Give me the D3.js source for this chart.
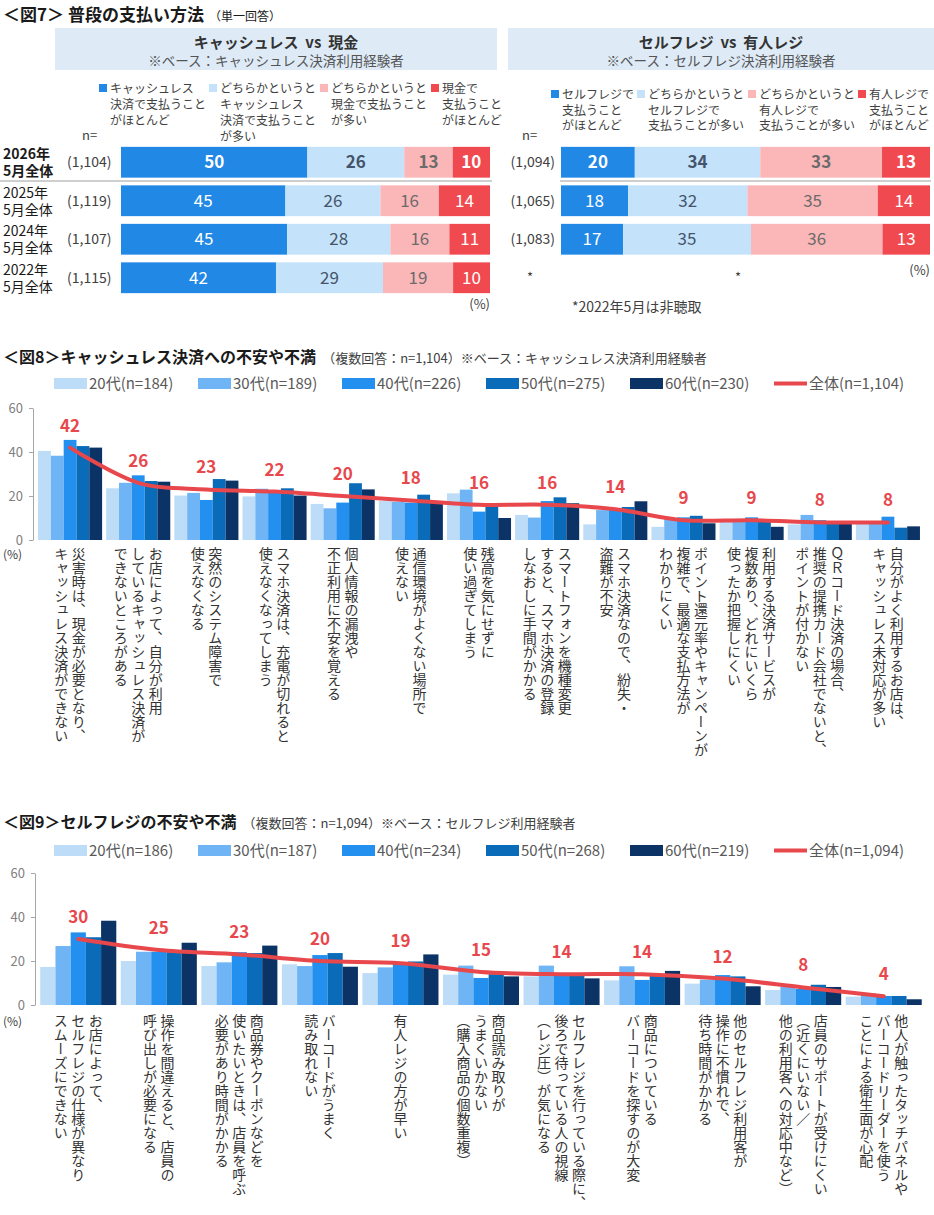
<!DOCTYPE html>
<html>
<head>
<meta charset="utf-8">
<script src="https://cdn.jsdelivr.net/npm/d3@7"></script>
<style>
  body { margin: 0; background: #fff; }
  svg text { font-family: "Noto Sans CJK JP", "Noto Sans", sans-serif; }
  .vlab { writing-mode: vertical-rl; }
</style>
</head>
<body>
<div id="chart"></div>
<script>
// ---------- data: 図7 ----------
const years = ["2026年", "2025年", "2024年", "2022年"];
const nCash = ["(1,104)", "(1,119)", "(1,107)", "(1,115)"];
const cashRows = [[50, 26, 13, 10], [45, 26, 16, 14], [45, 28, 16, 11], [42, 29, 19, 10]];
const nSelf = ["(1,094)", "(1,065)", "(1,083)"];
const selfRows = [[20, 34, 33, 13], [18, 32, 35, 14], [17, 35, 36, 13]];
const cashLegend = [
  ["キャッシュレス", "決済で支払うこと", "がほとんど"],
  ["どちらかというと", "キャッシュレス", "決済で支払うこと", "が多い"],
  ["どちらかというと", "現金で支払うこと", "が多い"],
  ["現金で", "支払うこと", "がほとんど"]
];
const selfLegend = [
  ["セルフレジで", "支払うこと", "がほとんど"],
  ["どちらかというと", "セルフレジで", "支払うことが多い"],
  ["どちらかというと", "有人レジで", "支払うことが多い"],
  ["有人レジで", "支払うこと", "がほとんど"]
];

// ---------- data: 図8 ----------
const ages = ["20代", "30代", "40代", "50代", "60代"];
const legend8 = ["20代(n=184)", "30代(n=189)", "40代(n=226)", "50代(n=275)", "60代(n=230)", "全体(n=1,104)"];
const cats8 = [
  ["災害時は、現金が必要となり、", "キャッシュレス決済ができない"],
  ["お店によって、自分が利用", "しているキャッシュレス決済が", "できないところがある"],
  ["突然のシステム障害で", "使えなくなる"],
  ["スマホ決済は、充電が切れると", "使えなくなってしまう"],
  ["個人情報の漏洩や", "不正利用に不安を覚える"],
  ["通信環境がよくない場所で", "使えない"],
  ["残高を気にせずに", "使い過ぎてしまう"],
  ["スマートフォンを機種変更", "すると、スマホ決済の登録", "しなおしに手間がかかる"],
  ["スマホ決済なので、紛失・", "盗難が不安"],
  ["ポイント還元率やキャンペーンが", "複雑で、最適な支払方法が", "わかりにくい"],
  ["利用する決済サービスが", "複数あり、どれにいくら", "使ったか把握しにくい"],
  ["ＱＲコード決済の場合、", "推奨の提携カード会社でないと、", "ポイントが付かない"],
  ["自分がよく利用するお店は、", "キャッシュレス未対応が多い"]
];
const f8_20 = [40.5, 23.5, 20.2, 19.8, 16.4, 17.7, 21.2, 11.4, 7.1, 6.0, 8.2, 7.1, 7.6];
const f8_30 = [38.3, 26.0, 21.4, 23.3, 14.4, 17.4, 22.9, 10.2, 13.6, 9.5, 8.2, 11.4, 7.6];
const f8_40 = [45.5, 29.4, 18.2, 22.5, 17.0, 17.0, 12.9, 17.7, 13.6, 10.3, 10.3, 9.0, 10.6];
const f8_50 = [42.7, 26.8, 27.7, 23.5, 25.8, 20.6, 15.6, 19.4, 15.0, 11.0, 8.3, 7.6, 5.6];
const f8_60 = [42.0, 26.5, 27.0, 20.2, 23.0, 17.0, 10.0, 16.7, 17.6, 7.6, 6.0, 7.6, 6.2];
const f8_all = [42, 26, 23, 22, 20, 18, 16, 16, 14, 9, 9, 8, 8];

// ---------- data: 図9 ----------
const legend9 = ["20代(n=186)", "30代(n=187)", "40代(n=234)", "50代(n=268)", "60代(n=219)", "全体(n=1,094)"];
const cats9 = [
  ["お店によって、", "セルフレジの仕様が異なり", "スムーズにできない"],
  ["操作を間違えると、店員の", "呼び出しが必要になる"],
  ["商品券やクーポンなどを", "使いたいときは、店員を呼ぶ", "必要があり時間がかかる"],
  ["バーコードがうまく", "読み取れない"],
  ["有人レジの方が早い"],
  ["商品読み取りが", "うまくいかない", "（購入商品の個数重複）"],
  ["セルフレジを行っている際に、", "後ろで待っている人の視線", "（レジ圧）が気になる"],
  ["商品についている", "バーコードを探すのが大変"],
  ["他のセルフレジ利用客が", "操作に不慣れで、", "待ち時間がかかる"],
  ["店員のサポートが受けにくい", "（近くにいない／", "他の利用客への対応中など）"],
  ["他人が触ったタッチパネルや", "バーコードリーダーを使う", "ことによる衛生面が心配"]
];
const f9_20 = [17.3, 20.0, 17.7, 18.5, 14.5, 13.8, 13.0, 11.2, 9.7, 6.8, 3.8];
const f9_30 = [26.8, 24.2, 19.4, 17.7, 17.1, 17.9, 17.9, 17.6, 11.5, 8.2, 5.2];
const f9_40 = [33.0, 24.2, 24.0, 22.7, 18.9, 12.3, 13.8, 11.4, 13.6, 7.3, 4.1];
const f9_50 = [30.8, 24.0, 23.6, 23.6, 19.8, 14.0, 13.8, 13.8, 13.0, 9.2, 4.1];
const f9_60 = [38.3, 28.3, 27.0, 17.4, 23.0, 13.0, 12.1, 15.5, 8.5, 8.2, 2.6];
const f9_all = [30, 25, 23, 20, 19, 15, 14, 14, 12, 8, 4];

// ---------- colours ----------
const segColors = ["#2188e6", "#c4e3fa", "#fbb6b8", "#f04a50"];
const segText = ["#fff", "#44546a", "#6b6b6b", "#fff"];
const ageColors = ["#bcdcf8", "#6fb5f6", "#2390f0", "#0a6cb9", "#0b3366"];
const lineColor = "#e8474c";

const svg = d3.select("#chart").append("svg")
  .attr("width", 934)
  .attr("height", 1215);

// =====================================================
// 図7
// =====================================================
svg.append("text")
  .attr("x", 3).attr("y", 21)
  .attr("font-size", 17).attr("font-weight", "bold").attr("fill", "#1a1a1a")
  .text("＜図7＞ 普段の支払い方法")
  .append("tspan").attr("dx", 5).attr("font-size", 12).attr("font-weight", "normal")
  .text("（単一回答）");

function header(x, w, title, sub) {
  svg.append("rect").attr("x", x).attr("y", 28).attr("width", w).attr("height", 42).attr("fill", "#deebf7");
  svg.append("text").attr("x", x + w / 2).attr("y", 48).attr("text-anchor", "middle")
    .attr("font-size", 15).attr("font-weight", "bold").attr("fill", "#333")
    .attr("xml:space", "preserve").text(title);
  svg.append("text").attr("x", x + w / 2).attr("y", 66).attr("text-anchor", "middle")
    .attr("font-size", 13.5).attr("fill", "#555").text(sub);
}
header(55, 442, "キャッシュレス  vs  現金", "※ベース：キャッシュレス決済利用経験者");
header(508, 426, "セルフレジ  vs  有人レジ", "※ベース：セルフレジ決済利用経験者");

function stackLegend(items, xs, y0, pitch) {
  items.forEach((lines, i) => {
    svg.append("rect").attr("x", xs[i]).attr("y", y0 - 9).attr("width", 8).attr("height", 8)
      .attr("fill", segColors[i]);
    svg.append("text").attr("x", xs[i] + 11).attr("y", y0)
      .attr("font-size", 12).attr("fill", "#404040")
      .selectAll("tspan").data(lines).join("tspan")
      .attr("x", xs[i] + 11).attr("dy", (d, j) => j === 0 ? 0 : pitch)
      .text(d => d);
  });
}
stackLegend(cashLegend, [99, 209, 320, 431], 93, 16);
stackLegend(selfLegend, [551, 637, 748, 858], 99, 15.5);

svg.append("text").attr("x", 82).attr("y", 140).attr("font-size", 13).attr("fill", "#404040").text("n=");
svg.append("text").attr("x", 522).attr("y", 140).attr("font-size", 13).attr("fill", "#404040").text("n=");

const rowY = d3.scaleBand().domain(years).range([143, 297]).paddingInner(0.2).paddingOuter(0.1);

function stackRows(rows, x0, x1) {
  rows.forEach((row, i) => {
    const x = d3.scaleLinear().domain([0, d3.sum(row)]).range([x0, x1]);
    const ends = d3.cumsum(row);
    const y = rowY(years[i]);
    const h = rowY.bandwidth();
    const g = svg.append("g");
    g.selectAll("rect").data(row).join("rect")
      .attr("x", (d, j) => x(ends[j] - d))
      .attr("y", y)
      .attr("width", d => x(d) - x(0))
      .attr("height", h)
      .attr("fill", (d, j) => segColors[j]);
    g.selectAll("text").data(row).join("text")
      .attr("x", (d, j) => x(ends[j] - d / 2))
      .attr("y", y + h / 2 + 6)
      .attr("text-anchor", "middle")
      .attr("font-size", 17)
      .attr("font-weight", i === 0 ? "bold" : "normal")
      .attr("fill", (d, j) => segText[j])
      .text(d => d);
  });
}
stackRows(cashRows, 121, 490);
stackRows(selfRows, 561, 930);

years.forEach((yr, i) => {
  const c = rowY(yr) + rowY.bandwidth() / 2;
  const bold = i === 0 ? "bold" : "normal";
  svg.append("text").attr("x", 3).attr("y", c - 3)
    .attr("font-size", 14).attr("fill", "#1a1a1a").attr("font-weight", bold).text(yr);
  svg.append("text").attr("x", 3).attr("y", c + 14)
    .attr("font-size", 14).attr("fill", "#1a1a1a").attr("font-weight", bold).text("5月全体");
  svg.append("text").attr("x", 67).attr("y", c + 5).attr("font-size", 14).attr("fill", "#404040").text(nCash[i]);
  if (i < nSelf.length) {
    svg.append("text").attr("x", 555).attr("y", c + 5).attr("text-anchor", "end")
      .attr("font-size", 14).attr("fill", "#404040").text(nSelf[i]);
  }
});

// separator under the 2026 row
svg.append("line").attr("x1", 0).attr("x2", 492).attr("y1", 181).attr("y2", 181).attr("stroke", "#cfcfcf").attr("stroke-width", 2);
svg.append("line").attr("x1", 560).attr("x2", 931).attr("y1", 181).attr("y2", 181).attr("stroke", "#cfcfcf").attr("stroke-width", 2);

svg.append("text").attr("x", 490).attr("y", 309).attr("text-anchor", "end").attr("font-size", 13).attr("fill", "#404040").text("(%)");
svg.append("text").attr("x", 930).attr("y", 275).attr("text-anchor", "end").attr("font-size", 13).attr("fill", "#404040").text("(%)");
svg.append("text").attr("x", 530).attr("y", 282).attr("text-anchor", "middle").attr("font-size", 13).attr("fill", "#404040").text("*");
svg.append("text").attr("x", 738).attr("y", 282).attr("text-anchor", "middle").attr("font-size", 13).attr("fill", "#404040").text("*");
svg.append("text").attr("x", 572).attr("y", 312).attr("font-size", 14).attr("fill", "#404040").text("*2022年5月は非聴取");

// =====================================================
// 図8 / 図9  grouped bars + 全体 line
// =====================================================
function grouped(cfg) {
  const y = d3.scaleLinear().domain([0, 60]).range([cfg.y0, cfg.y1]);
  const x = d3.scaleBand().domain(d3.range(cfg.cats.length)).range(cfg.xr)
    .paddingInner(cfg.pad).paddingOuter(cfg.pad / 2);
  const xs = d3.scaleBand().domain(ages).range([0, x.bandwidth()]);

  // title
  svg.append("text").attr("x", 3).attr("y", cfg.titleY)
    .attr("font-size", 16).attr("font-weight", "bold").attr("fill", "#1a1a1a")
    .text(cfg.title)
    .append("tspan").attr("dx", 6).attr("font-size", 13).attr("font-weight", "normal").attr("fill", "#404040")
    .text(cfg.sub);

  // legend
  const lg = svg.append("g").attr("transform", `translate(0,${cfg.legY})`);
  cfg.legend.forEach((lab, i) => {
    const lx = 54 + i * 144;
    if (i < 5) {
      lg.append("rect").attr("x", lx).attr("y", -5).attr("width", 33).attr("height", 11).attr("fill", ageColors[i]);
    } else {
      lg.append("line").attr("x1", lx).attr("x2", lx + 33).attr("y1", 0.5).attr("y2", 0.5)
        .attr("stroke", lineColor).attr("stroke-width", 4);
    }
    lg.append("text").attr("x", lx + 35).attr("y", 6).attr("font-size", 15).attr("fill", "#595959").text(lab);
  });

  // axis
  const ax = svg.append("g").attr("transform", `translate(${cfg.axisX},0)`)
    .call(d3.axisLeft(y).tickValues([0, 20, 40, 60]).tickSize(4).tickSizeOuter(0).tickPadding(6));
  ax.select(".domain").attr("stroke", "#a6a6a6");
  ax.selectAll(".tick line").attr("stroke", "#a6a6a6");
  ax.selectAll(".tick text").attr("fill", "#808080").attr("font-size", 13)
    .style("font-family", '"Noto Sans CJK JP", sans-serif');

  // bars
  const groups = svg.append("g").selectAll("g").data(cfg.cats).join("g")
    .attr("transform", (d, i) => `translate(${x(i)},0)`);
  groups.selectAll("rect").data((d, i) => cfg.series.map((s, k) => ({ age: ages[k], v: s[i], k })))
    .join("rect")
    .attr("x", d => xs(d.age))
    .attr("y", d => y(d.v))
    .attr("width", xs.bandwidth())
    .attr("height", d => y(0) - y(d.v))
    .attr("fill", d => ageColors[d.k]);

  // line
  const cx = i => x(i) + x.bandwidth() / 2;
  svg.append("path").datum(cfg.total)
    .attr("fill", "none").attr("stroke", lineColor).attr("stroke-width", 4)
    .attr("stroke-linecap", "round").attr("stroke-linejoin", "round")
    .attr("d", d3.line().x((d, i) => cx(i)).y(d => y(d)).curve(d3.curveCatmullRom.alpha(0.5)));
  svg.append("g").selectAll("text").data(cfg.total).join("text")
    .attr("x", (d, i) => cx(i))
    .attr("y", d => y(d) - 16)
    .attr("text-anchor", "middle")
    .attr("font-size", 17).attr("font-weight", "bold").attr("fill", lineColor)
    .text(d => d);

  // (%)
  svg.append("text").attr("x", 3).attr("y", cfg.pctY).attr("font-size", 12).attr("fill", "#404040").text("(%)");

  // vertical category labels, first line on the right
  const sp = 17.5;
  cfg.cats.forEach((lines, i) => {
    const n = lines.length;
    lines.forEach((ln, k) => {
      svg.append("text").attr("class", "vlab")
        .attr("x", cx(i) + ((n - 1) / 2 - k) * sp)
        .attr("y", cfg.labY)
        .attr("font-size", 14).attr("fill", "#333")
        .text(ln);
    });
  });
}

grouped({
  title: "＜図8＞キャッシュレス決済への不安や不満",
  sub: "（複数回答：n=1,104）※ベース：キャッシュレス決済利用経験者",
  titleY: 363, legY: 383, legend: legend8,
  y0: 540, y1: 408, axisX: 33, xr: [36, 922], pad: 0.06,
  cats: cats8, series: [f8_20, f8_30, f8_40, f8_50, f8_60], total: f8_all,
  pctY: 559, labY: 547
});

grouped({
  title: "＜図9＞セルフレジの不安や不満",
  sub: "（複数回答：n=1,094）※ベース：セルフレジ利用経験者",
  titleY: 828, legY: 850, legend: legend9,
  y0: 1005, y1: 873, axisX: 35, xr: [38, 924], pad: 0.056,
  cats: cats9, series: [f9_20, f9_30, f9_40, f9_50, f9_60], total: f9_all,
  pctY: 1026, labY: 1014
});
</script>
</body>
</html>
